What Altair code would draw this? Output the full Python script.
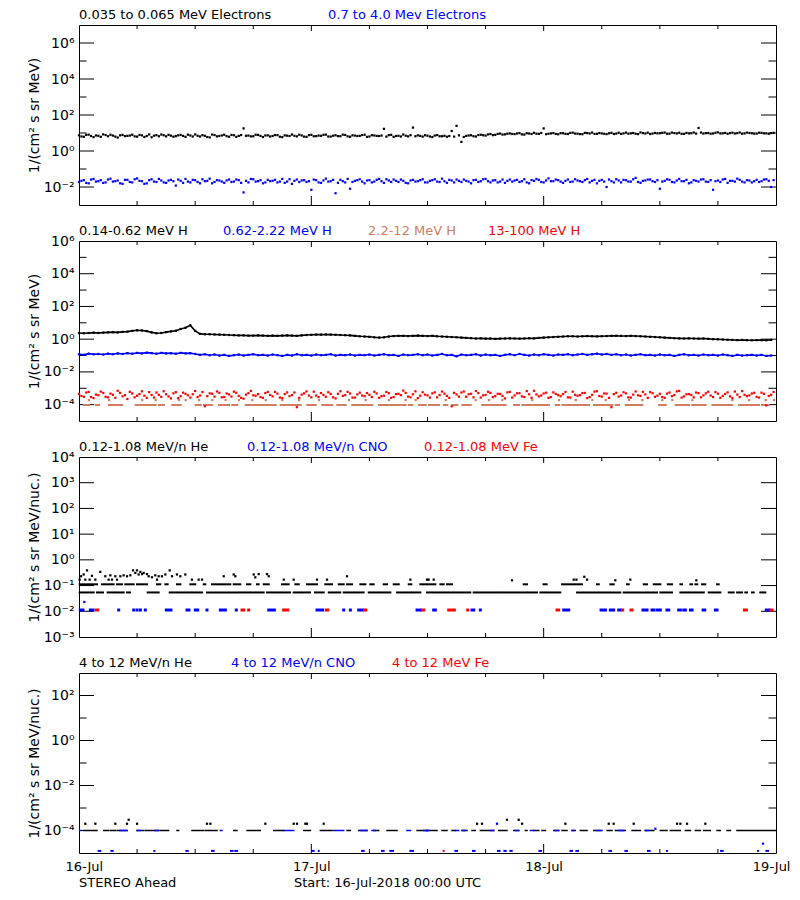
import altair as alt
import pandas as pd

FONT = "DejaVu Sans"
BLACK, BLUE, RED, SIENNA = "#000000", "#0000FF", "#FF0000", "#D08060"
W, H = 697, 180

# ---------------- data (hours since 16-Jul-2018 00:00) ----------------
HOURS_A = [i * 0.5 for i in range(144)]          # samples on the half hour
HOURS_B = [i * 0.5 + 0.25 for i in range(144)]   # samples a quarter past
DAY_TICKS = [0, 24, 48, 72]
DAY_LABELS = ["16-Jul", "17-Jul", "18-Jul", "19-Jul"]

# Panel 1: electrons
E_LO = [7.5, 6.2, 8.1, 5.9, 7.0, 8.4, 6.6, 7.2, 5.6, 7.8,
        6.9, 8.0, 6.3, 7.4, 6.8, 5.8, 7.6, 8.2, 6.5, 7.1,
        6.7, 7.9, 6.1, 7.3, 8.3, 6.4, 7.0, 5.7, 7.7, 6.8,
        8.0, 6.2, 7.5, 6.9, 18.0, 7.2, 6.6, 7.8, 6.0, 7.4,
        6.8, 7.6, 5.9, 7.1, 8.2, 6.5, 7.3, 6.1, 7.9, 6.7,
        7.0, 8.1, 6.3, 7.5, 6.6, 7.8, 6.2, 7.2, 6.9, 8.0,
        6.4, 7.3, 6.8, 17.0, 7.6, 6.1, 7.0, 8.2, 6.5, 20.0,
        7.4, 6.3, 7.1, 6.0, 7.7, 6.6, 6.2, 13.0, 25.0, 3.2,
        6.9, 7.5, 6.4, 8.0, 7.2, 8.8, 7.9, 9.3, 8.4, 9.6,
        8.7, 9.9, 8.2, 9.4, 10.3, 8.9, 18.0, 9.1, 10.0, 8.5,
        9.7, 8.8, 10.4, 9.2, 8.6, 9.9, 10.6, 9.0, 9.5, 8.7,
        10.2, 9.3, 8.9, 10.5, 9.6, 9.1, 10.8, 9.4, 8.8, 10.1,
        9.7, 10.6, 9.2, 9.9, 10.3, 8.9, 9.5, 10.7, 19.0, 9.3,
        10.0, 9.4, 10.9, 9.6, 9.1, 10.4, 9.8, 9.2, 10.5, 9.7,
        9.3, 10.2, 9.6, 9.9]
E_LO_B = [6.4, 7.9, 6.8, 7.3, 6.1, 7.7, 8.0, 6.3, 7.4, 6.7,
          7.2, 6.5, 7.8, 6.0, 8.3, 7.1, 6.6, 7.5, 7.9, 6.2,
          7.4, 6.9, 8.1, 6.4, 7.0, 7.6, 6.0, 8.2, 6.5, 7.3,
          6.7, 7.8, 6.1, 7.7, 7.0, 6.5, 8.0, 6.9, 7.3, 6.4,
          7.7, 6.2, 7.4, 6.8, 7.0, 8.0, 6.3, 7.6, 6.6, 7.2,
          7.9, 6.4, 7.1, 6.7, 8.1, 6.5, 7.4, 6.8, 7.7, 6.1,
          7.5, 6.9, 7.2, 6.3, 7.9, 6.8, 6.4, 7.1, 7.6, 6.6,
          6.9, 7.5, 6.4, 7.2, 6.6, 7.0, 6.8, 6.3, 7.4, 6.0,
          7.3, 6.6, 7.7, 7.5, 8.3, 7.6, 8.9, 8.2, 9.1, 8.8,
          9.4, 8.4, 9.7, 8.8, 9.2, 10.1, 8.6, 9.5, 8.9, 9.8,
          9.0, 10.1, 9.3, 8.7, 10.2, 9.4, 8.9, 10.0, 9.1, 9.6,
          8.8, 10.3, 9.5, 9.2, 10.0, 8.7, 9.9, 10.4, 9.3, 9.6,
          10.2, 9.1, 10.5, 9.4, 9.0, 10.1, 9.7, 9.3, 10.6, 9.8,
          9.2, 10.3, 9.5, 10.1, 9.9, 9.4, 10.7, 9.5, 10.0, 9.3,
          10.4, 9.6, 9.1, 10.2]
E_HI = [0.019, 0.024, 0.016, 0.028, 0.021, 0.017, 0.026, 0.020, 0.023, 0.015,
        0.025, 0.018, 0.030, 0.021, 0.016, 0.027, 0.019, 0.023, 0.017, 0.025,
        0.012, 0.022, 0.028, 0.018, 0.024, 0.016, 0.021, 0.029, 0.019, 0.023,
        0.017, 0.026, 0.020, 0.024, 0.005, 0.018, 0.027, 0.021, 0.016, 0.025,
        0.022, 0.018, 0.028, 0.020, 0.015, 0.026, 0.023, 0.019, 0.007, 0.024,
        0.017, 0.029, 0.021, 0.0045, 0.025, 0.018, 0.008, 0.022, 0.027, 0.016,
        0.024, 0.020, 0.028, 0.017, 0.023, 0.026, 0.019, 0.022, 0.016, 0.025,
        0.021, 0.027, 0.018, 0.024, 0.020, 0.029, 0.017, 0.023, 0.026, 0.019,
        0.022, 0.016, 0.025, 0.021, 0.028, 0.018, 0.024, 0.020, 0.017, 0.026,
        0.023, 0.019, 0.027, 0.016, 0.022, 0.025, 0.018, 0.030, 0.021, 0.024,
        0.017, 0.026, 0.020, 0.023, 0.019, 0.028, 0.022, 0.016, 0.025, 0.010,
        0.021, 0.027, 0.018, 0.024, 0.020, 0.032, 0.017, 0.023, 0.026, 0.019,
        0.008, 0.022, 0.025, 0.018, 0.028, 0.021, 0.016, 0.024, 0.020, 0.027,
        0.019, 0.007, 0.023, 0.026, 0.017, 0.022, 0.029, 0.020, 0.024, 0.018,
        0.025, 0.021, 0.027, 0.010]
E_HI_B = [0.022, 0.017, 0.026, 0.020, 0.024, 0.018, 0.029, 0.021, 0.016, 0.025,
          0.019, 0.027, 0.022, 0.015, 0.024, 0.020, 0.028, 0.018, 0.023, 0.021,
          0.026, 0.017, 0.020, 0.025, 0.019, 0.027, 0.022, 0.016, 0.024, 0.020,
          0.023, 0.019, 0.026, 0.017, 0.022, 0.028, 0.020, 0.024, 0.018, 0.021,
          0.025, 0.020, 0.017, 0.027, 0.022, 0.019, 0.024, 0.021, 0.026, 0.018,
          0.023, 0.020, 0.025, 0.017, 0.021, 0.028, 0.019, 0.024, 0.020, 0.023,
          0.018, 0.025, 0.021, 0.027, 0.019, 0.022, 0.026, 0.017, 0.023, 0.020,
          0.024, 0.018, 0.022, 0.027, 0.019, 0.021, 0.025, 0.018, 0.022, 0.026,
          0.020, 0.024, 0.019, 0.027, 0.021, 0.023, 0.018, 0.026, 0.022, 0.020,
          0.025, 0.021, 0.018, 0.024, 0.028, 0.019, 0.023, 0.021, 0.026, 0.020,
          0.022, 0.019, 0.027, 0.021, 0.024, 0.018, 0.025, 0.022, 0.020, 0.026,
          0.018, 0.023, 0.025, 0.020, 0.027, 0.019, 0.022, 0.026, 0.021, 0.024,
          0.020, 0.027, 0.019, 0.023, 0.021, 0.025, 0.018, 0.022, 0.026, 0.020,
          0.024, 0.021, 0.019, 0.028, 0.022, 0.020, 0.025, 0.018, 0.023, 0.021,
          0.019, 0.026, 0.022, 0.024]

# Panel 2: protons
H_LO = [2.4, 2.3, 2.4, 2.5, 2.4, 2.5, 2.6, 2.7, 2.6, 2.8,
        2.9, 3.2, 3.5, 3.4, 3.1, 2.6, 2.3, 2.4, 2.7, 3.0,
        3.3, 4.2, 5.0, 7.0, 3.2, 2.1, 2.0, 2.0, 1.95, 1.9,
        1.85, 1.8, 1.75, 1.7, 1.7, 1.65, 1.65, 1.7, 1.65, 1.6,
        1.65, 1.6, 1.65, 1.7, 1.65, 1.6, 1.7, 1.8, 1.85, 1.9,
        1.9, 1.95, 1.9, 1.85, 1.8, 1.75, 1.7, 1.6, 1.5, 1.45,
        1.4, 1.3, 1.25, 1.3, 1.45, 1.55, 1.6, 1.6, 1.55, 1.6,
        1.65, 1.6, 1.55, 1.6, 1.5, 1.45, 1.4, 1.35, 1.3, 1.25,
        1.2, 1.15, 1.1, 1.12, 1.08, 1.1, 1.05, 1.08, 1.1, 1.12,
        1.1, 1.08, 1.1, 1.15, 1.12, 1.2, 1.25, 1.3, 1.35, 1.4,
        1.45, 1.5, 1.5, 1.45, 1.5, 1.55, 1.5, 1.48, 1.52, 1.55,
        1.6, 1.62, 1.58, 1.55, 1.6, 1.55, 1.5, 1.45, 1.4, 1.35,
        1.3, 1.25, 1.2, 1.15, 1.12, 1.1, 1.12, 1.1, 1.08, 1.1,
        1.05, 1.0, 0.98, 0.95, 0.92, 0.9, 0.88, 0.9, 0.87, 0.86,
        0.88, 0.87, 0.86, 0.9]
H_MID = [0.12, 0.11, 0.13, 0.12, 0.125, 0.115, 0.13, 0.12, 0.135, 0.125,
         0.14, 0.13, 0.145, 0.135, 0.15, 0.14, 0.13, 0.145, 0.135, 0.14,
         0.13, 0.145, 0.135, 0.14, 0.125, 0.11, 0.12, 0.105, 0.115, 0.1,
         0.11, 0.095, 0.105, 0.115, 0.1, 0.11, 0.12, 0.105, 0.11, 0.1,
         0.115, 0.105, 0.095, 0.11, 0.1, 0.12, 0.105, 0.11, 0.1, 0.115,
         0.105, 0.11, 0.12, 0.1, 0.11, 0.105, 0.115, 0.1, 0.11, 0.105,
         0.115, 0.1, 0.11, 0.12, 0.105, 0.11, 0.095, 0.115, 0.105, 0.11,
         0.12, 0.105, 0.115, 0.1, 0.11, 0.125, 0.105, 0.11, 0.09, 0.115,
         0.105, 0.11, 0.12, 0.1, 0.115, 0.105, 0.11, 0.095, 0.11, 0.12,
         0.105, 0.125, 0.11, 0.1, 0.115, 0.105, 0.12, 0.11, 0.1, 0.115,
         0.11, 0.12, 0.105, 0.115, 0.125, 0.11, 0.12, 0.13, 0.115, 0.125,
         0.11, 0.12, 0.105, 0.115, 0.1, 0.11, 0.12, 0.105, 0.11, 0.1,
         0.115, 0.105, 0.11, 0.095, 0.11, 0.12, 0.105, 0.11, 0.1, 0.115,
         0.105, 0.11, 0.1, 0.115, 0.105, 0.095, 0.11, 0.1, 0.105, 0.11,
         0.1, 0.11, 0.095, 0.1]
H_HI = [4.5e-4, 3.0e-4, 6.0e-4, 2.5e-4, 3.8e-4, 5.2e-4, 2.8e-4, 4.0e-4, 7.0e-4, 3.2e-4,
        2.2e-4, 4.8e-4, 3.5e-4, 6.5e-4, 2.6e-4, 3.9e-4, 5.5e-4, 3.0e-4, 4.3e-4, 2.4e-4,
        5.8e-4, 3.3e-4, 4.6e-4, 2.7e-4, 6.8e-4, 3.6e-4, 0.8e-4, 4.9e-4, 3.1e-4, 5.3e-4,
        2.9e-4, 4.2e-4, 6.2e-4, 3.4e-4, 2.3e-4, 5.0e-4, 3.7e-4, 4.4e-4, 2.6e-4, 6.0e-4,
        3.2e-4, 4.7e-4, 2.5e-4, 5.6e-4, 3.9e-4, 0.7e-4, 4.1e-4, 6.4e-4, 2.8e-4, 3.6e-4,
        5.1e-4, 3.0e-4, 4.5e-4, 2.4e-4, 6.6e-4, 3.8e-4, 4.8e-4, 2.7e-4, 5.4e-4, 3.3e-4,
        4.0e-4, 6.1e-4, 2.6e-4, 3.5e-4, 5.0e-4, 2.9e-4, 4.6e-4, 7.2e-4, 3.1e-4, 4.3e-4,
        2.5e-4, 5.7e-4, 3.7e-4, 4.9e-4, 2.8e-4, 6.3e-4, 3.4e-4, 0.8e-4, 4.2e-4, 5.5e-4,
        3.0e-4, 4.6e-4, 6.8e-4, 2.7e-4, 3.9e-4, 5.2e-4, 3.3e-4, 4.5e-4, 2.4e-4, 6.0e-4,
        3.6e-4, 5.0e-4, 2.9e-4, 4.3e-4, 7.0e-4, 3.2e-4, 4.8e-4, 2.6e-4, 5.6e-4, 3.8e-4,
        4.4e-4, 2.8e-4, 6.2e-4, 3.5e-4, 5.1e-4, 2.5e-4, 4.0e-4, 6.6e-4, 3.1e-4, 4.7e-4,
        0.7e-4, 5.3e-4, 3.6e-4, 4.9e-4, 2.7e-4, 6.4e-4, 3.4e-4, 4.2e-4, 5.8e-4, 3.0e-4,
        4.6e-4, 2.6e-4, 5.5e-4, 3.9e-4, 6.9e-4, 3.2e-4, 4.4e-4, 2.8e-4, 5.0e-4, 3.7e-4,
        6.1e-4, 2.9e-4, 4.7e-4, 3.4e-4, 5.6e-4, 2.5e-4, 4.1e-4, 6.7e-4, 3.3e-4, 4.8e-4,
        3.0e-4, 5.4e-4, 0.9e-4, 4.0e-4]
H_HI_B = [3.4e-4, 5.5e-4, 2.9e-4, 4.1e-4, 6.3e-4, 3.0e-4, 4.7e-4, 2.6e-4, 5.2e-4, 3.8e-4,
          6.1e-4, 2.8e-4, 4.4e-4, 3.5e-4, 5.8e-4, 2.7e-4, 4.0e-4, 6.6e-4, 3.2e-4, 4.9e-4,
          2.5e-4, 5.4e-4, 3.7e-4, 4.3e-4, 2.9e-4, 5.9e-4, 3.3e-4, 4.6e-4, 6.4e-4, 2.8e-4,
          4.8e-4, 3.1e-4, 5.3e-4, 2.6e-4, 4.1e-4, 6.9e-4, 3.5e-4, 2.9e-4, 5.1e-4, 3.9e-4,
          6.0e-4, 2.7e-4, 4.4e-4, 3.3e-4, 5.5e-4, 2.6e-4, 4.9e-4, 3.6e-4, 6.2e-4, 2.9e-4,
          3.9e-4, 5.7e-4, 2.8e-4, 4.6e-4, 3.4e-4, 6.0e-4, 2.7e-4, 4.2e-4, 3.6e-4, 5.1e-4,
          2.9e-4, 4.8e-4, 3.3e-4, 5.9e-4, 2.6e-4, 4.4e-4, 3.8e-4, 5.2e-4, 2.8e-4, 6.5e-4,
          3.5e-4, 4.1e-4, 2.7e-4, 5.6e-4, 3.9e-4, 4.7e-4, 2.6e-4, 5.3e-4, 3.1e-4, 6.3e-4,
          4.3e-4, 2.8e-4, 5.1e-4, 3.7e-4, 6.1e-4, 2.9e-4, 4.6e-4, 3.4e-4, 5.6e-4, 2.7e-4,
          4.9e-4, 3.2e-4, 6.7e-4, 2.6e-4, 4.2e-4, 3.6e-4, 5.4e-4, 2.9e-4, 4.5e-4, 3.3e-4,
          5.9e-4, 2.7e-4, 4.0e-4, 3.8e-4, 5.2e-4, 2.9e-4, 6.2e-4, 3.4e-4, 4.8e-4, 2.6e-4,
          4.4e-4, 3.1e-4, 5.7e-4, 2.8e-4, 4.1e-4, 3.7e-4, 6.0e-4, 2.6e-4, 5.0e-4, 3.5e-4,
          2.9e-4, 4.7e-4, 3.3e-4, 6.4e-4, 2.7e-4, 4.3e-4, 3.9e-4, 5.5e-4, 2.8e-4, 4.9e-4,
          3.6e-4, 5.8e-4, 2.6e-4, 4.5e-4, 3.2e-4, 6.3e-4, 2.9e-4, 4.0e-4, 3.7e-4, 5.3e-4,
          2.7e-4, 4.6e-4, 3.4e-4, 5.9e-4]
H_SIENNA_LEVEL = 9.5e-5
H_SIENNA_RUNS = [(0.52, 1.03), (1.72, 2.07), (3.1, 4.47), (5.86, 7.92), (8.26, 8.78),
                 (9.64, 10.5), (12.05, 12.57), (12.91, 13.77), (14.46, 15.5), (15.84, 16.35),
                 (17.22, 20.32), (20.84, 22.9), (23.58, 24.45), (25.13, 26.17), (26.68, 27.55),
                 (28.23, 30.3), (30.99, 33.06), (33.06, 33.75), (34.09, 34.43), (35.12, 35.82),
                 (36.16, 37.19), (37.71, 38.05), (38.56, 39.08), (39.6, 40.46), (41.66, 44.08),
                 (44.94, 45.45), (45.8, 47.52), (47.7, 48.55), (49.25, 49.59), (49.93, 52.69),
                 (53.2, 55.1), (55.44, 55.79), (56.48, 58.19), (59.92, 60.61), (61.64, 63.02),
                 (63.36, 64.74), (65.43, 67.49), (68.18, 70.25), (70.59, 71.28)]
H_SIENNA_UP_LEVEL = 1.9e-4
H_SIENNA_UP_HOURS = [1.03, 3.1, 6.54, 7.92, 10.33, 11.02, 12.4, 13.77, 15.15, 16.53, 17.9,
                     19.29, 21.0, 22.73, 24.79, 27.89, 29.62, 32.02, 33.75, 34.78, 37.88,
                     40.98, 42.36, 43.73, 46.83, 49.59, 51.31, 53.03, 54.41, 56.82, 58.19,
                     60.26, 61.29, 63.36, 67.49, 69.21, 70.94, 71.8]

# Panel 3: 0.12-1.08 MeV/n ions
HE_LOW_LEVEL = 0.054
HE_LOW_RUNS = [(0.07, 1.52), (1.86, 2.48), (2.96, 4.62), (4.96, 5.27), (7.10, 8.23),
               (9.37, 11.5), (11.67, 12.71), (13.22, 16.32), (16.5, 19.08), (19.42, 21.8),
               (22.18, 23.86), (24.38, 25.28), (25.8, 26.99), (27.35, 29.41), (29.93, 32.16),
               (32.85, 34.23), (34.4, 35.26), (35.95, 38.53), (38.71, 40.42), (40.77, 43.18),
               (43.36, 46.28), (46.46, 47.31), (47.66, 49.72), (51.45, 55.92), (56.27, 59.71),
               (60.05, 61.26), (62.12, 64.54), (65.05, 66.25), (67.12, 67.63), (67.98, 68.5),
               (68.83, 69.01), (69.52, 69.7), (70.38, 70.9)]
HE_MID_LEVEL = 0.112
HE_MID_RUNS = [(0.07, 1.86), (2.38, 3.58), (3.93, 4.44), (4.78, 5.65), (5.99, 7.02),
               (8.06, 8.4), (8.92, 9.16), (10.12, 10.47), (11.5, 12.01), (12.88, 13.05),
               (13.74, 15.63), (15.98, 16.66), (17.36, 17.7), (18.39, 18.56), (19.08, 19.6),
               (20.97, 21.66), (22.35, 22.7), (23.55, 24.59), (25.44, 26.14), (26.83, 27.35),
               (27.69, 28.2), (29.06, 29.58), (30.09, 30.44), (31.48, 31.82), (32.51, 33.03),
               (34.06, 34.33), (35.26, 35.95), (36.13, 36.81), (37.33, 37.67), (38.02, 38.53),
               (45.94, 46.28), (47.98, 48.31), (49.9, 51.96), (53.51, 53.69), (54.89, 55.24),
               (56.61, 56.79), (58.34, 58.68), (59.37, 60.05), (60.82, 61.26), (62.12, 62.29),
               (63.15, 63.33), (63.67, 63.87), (64.36, 64.7), (65.91, 66.08)]
HE_SCATTER = [(0.07, 0.17), (0.21, 0.23), (0.48, 0.27), (0.65, 0.17), (0.83, 0.39),
              (1.1, 0.17), (1.34, 0.24), (1.69, 0.17), (2.2, 0.34), (2.72, 0.23),
              (3.06, 0.17), (3.24, 0.25), (3.41, 0.17), (3.75, 0.23), (3.93, 0.17),
              (4.27, 0.23), (4.61, 0.25), (4.96, 0.23), (5.3, 0.25), (5.58, 0.39),
              (5.82, 0.31), (5.99, 0.39), (6.16, 0.27), (6.34, 0.34), (6.51, 0.28),
              (6.68, 0.31), (7.02, 0.28), (7.2, 0.23), (7.54, 0.21), (7.88, 0.25),
              (8.06, 0.17), (8.23, 0.23), (8.57, 0.23), (8.92, 0.27), (9.37, 0.39),
              (9.61, 0.23), (10.12, 0.27), (10.47, 0.23), (10.98, 0.27), (11.67, 0.17),
              (12.36, 0.17), (12.71, 0.17), (14.95, 0.23), (15.98, 0.27), (16.15, 0.23),
              (18.05, 0.27), (18.21, 0.21), (18.56, 0.28), (19.42, 0.28), (19.6, 0.23),
              (21.15, 0.17), (22.18, 0.17), (24.59, 0.17), (25.62, 0.17), (27.69, 0.23),
              (34.23, 0.17), (35.95, 0.17), (36.12, 0.17), (36.64, 0.17), (44.73, 0.16),
              (51.1, 0.17), (51.38, 0.17), (52.2, 0.22), (52.48, 0.17), (55.4, 0.16),
              (56.95, 0.17), (63.77, 0.16)]
CNO_LOW_LEVEL = 0.0112
CNO_LOW_RUNS = [(0.14, 0.41), (1.17, 1.45), (4.1, 4.1), (5.65, 5.65), (6.0, 6.0), (6.34, 6.34),
                (6.85, 6.85), (9.02, 9.5), (11.16, 11.36), (12.02, 12.26), (13.22, 13.22),
                (14.6, 15.12), (16.25, 16.25), (19.6, 20.18), (24.59, 25.17), (27.34, 27.34),
                (28.03, 28.03), (28.89, 29.24), (34.92, 35.26), (36.64, 36.81), (40.6, 40.77),
                (41.46, 41.46), (50.07, 50.59), (53.93, 54.38), (54.89, 55.23), (55.75, 55.92),
                (58.26, 58.68), (59.19, 59.37), (59.71, 60.05), (60.74, 60.92), (61.95, 62.12),
                (62.47, 62.64), (63.16, 63.33), (64.47, 64.64), (65.74, 65.91), (71.0, 71.25)]
CNO_LOW_EXTRA = [(0.55, 0.023)]
FE_LOW_RUNS = [(1.79, 1.93), (16.84, 17.01), (17.53, 17.53), (21.14, 21.56), (25.55, 25.69),
               (29.48, 29.62), (35.47, 35.61), (38.19, 38.36), (38.64, 38.77), (40.15, 40.15),
               (49.38, 49.55), (56.16, 56.16), (57.02, 57.13), (68.74, 68.94), (71.42, 71.59)]

# Panel 4: 4-12 MeV/n ions
HI_LEVEL = 1.0e-4
HE4_RUNS = [(0.48, 1.86), (2.55, 3.06), (3.24, 3.75), (3.93, 4.96), (6.0, 6.68), (6.85, 8.23),
            (8.4, 9.26), (10.12, 10.3), (11.67, 12.88), (13.05, 14.26), (15.98, 16.32),
            (17.36, 18.73), (20.11, 21.14), (23.21, 23.9), (24.93, 26.14), (27.69, 28.03),
            (28.89, 29.75), (30.44, 30.96), (31.82, 32.85), (34.92, 35.95), (35.95, 36.98),
            (37.5, 38.02), (38.53, 38.88), (39.57, 40.08), (40.6, 40.94), (41.46, 42.84),
            (43.36, 44.21), (44.9, 45.42), (46.11, 46.28), (46.97, 47.49), (47.83, 48.18),
            (49.04, 49.55), (49.9, 50.41), (50.93, 51.27), (51.79, 52.48), (53.17, 53.86),
            (54.55, 55.06), (55.41, 56.44), (57.13, 57.99), (58.5, 59.37), (60.05, 60.74),
            (61.09, 62.12), (62.64, 63.16), (63.67, 64.19), (64.53, 65.22), (65.91, 66.25),
            (66.94, 67.29), (67.97, 71.94)]
CNO4_RUNS = [(0.07, 0.21), (4.27, 4.96), (6.0, 6.34), (7.88, 8.23), (14.6, 14.77),
             (21.14, 22.18), (26.31, 27.34), (29.06, 29.75), (30.27, 30.61), (33.88, 34.23),
             (35.61, 35.95), (35.95, 36.12), (38.88, 39.22), (39.57, 39.91), (42.49, 42.84),
             (45.08, 45.42), (46.63, 46.97), (49.21, 49.55), (50.93, 51.1), (53.51, 54.03),
             (55.75, 56.27), (58.5, 58.85)]
HE4_SCATTER = [(0.65, 2e-4), (1.69, 2e-4), (3.75, 2e-4), (4.96, 2e-4), (5.13, 3e-4),
               (6.0, 2e-4), (13.22, 2e-4), (13.57, 2e-4), (19.25, 2e-4), (22.18, 2e-4),
               (22.52, 2e-4), (23.38, 2e-4), (23.55, 2e-4), (25.28, 2e-4), (41.12, 2e-4),
               (41.63, 2e-4), (44.21, 3e-4), (45.42, 3e-4), (45.77, 2e-4), (50.24, 2e-4),
               (54.72, 2e-4), (55.23, 2e-4), (57.3, 2e-4), (61.78, 2e-4), (62.12, 2e-4),
               (62.81, 2e-4), (64.7, 2e-4)]
CNO4_SCATTER = [(43.18, 2e-4), (59.54, 1.2e-4), (70.66, 2.6e-5)]
BASE_LEVEL = 1.24e-5
CNO4_BASE_RUNS = [(2.03, 2.2), (3.34, 3.48), (7.78, 7.78), (11.09, 11.23), (13.74, 13.91),
                  (15.7, 15.87), (16.15, 16.32), (24.07, 24.24), (24.76, 24.76), (29.24, 29.41),
                  (31.3, 31.47), (32.16, 32.44), (34.23, 34.51), (38.88, 39.05), (40.7, 40.87),
                  (43.28, 43.45), (43.94, 44.08), (44.56, 44.7), (47.56, 47.73), (50.76, 50.93),
                  (51.38, 51.55), (54.79, 54.96), (56.44, 56.61), (58.78, 58.95), (60.74, 60.74),
                  (66.32, 66.49), (70.15, 70.15), (71.01, 71.18)]
FE4_BASE_RUNS = [(37.67, 37.67)]

# ---------------- helpers ----------------
SUP = str.maketrans("-0123456789", "⁻⁰¹²³⁴⁵⁶⁷⁸⁹")


def ylabel_expr(exps):
    parts = [f"round(log(datum.value)/LN10) == {e} ? '10{str(e).translate(SUP)}'" for e in exps]
    return " : ".join(parts) + " : ''"


XLABEL_EXPR = " : ".join(
    f"datum.value == {t} ? '{l}'" for t, l in zip(DAY_TICKS, DAY_LABELS)) + " : ''"

XSC = alt.Scale(domain=[0, 72], nice=False, zero=False)


def panel(exp_lo, exp_hi, major, minor, label_exps, ytitle, data_specs, titles, bottom=False):
    ysc = alt.Scale(type="log", domain=[10.0 ** exp_lo, 10.0 ** exp_hi], nice=False)
    yaxis = alt.Axis(
        values=[10.0 ** e for e in label_exps], labelExpr=ylabel_expr(label_exps),
        ticks=False, domain=False, grid=False, labelOverlap=False, labelFlush=False,
        labelFontSize=14, labelPadding=5, title=ytitle, titleFontSize=14,
        titleX=-45, titleY=H / 2, titleBaseline="middle", titleAngle=-90,
        titleFontWeight="normal")
    if bottom:
        xaxis = alt.Axis(values=DAY_TICKS, labelExpr=XLABEL_EXPR, ticks=False, domain=False,
                         grid=False, labelFontSize=13, labelPadding=7, labelFlush=True,
                         labelFlushOffset=14, labelOverlap=False, title=None)
    else:
        xaxis = None

    def Y(field):
        return alt.Y(field, scale=ysc, axis=yaxis)

    def X(field):
        return alt.X(field, scale=XSC, axis=xaxis)

    layers = []
    # y ticks (inside, both sides)
    maj_df = pd.DataFrame({"v": [10.0 ** e for e in major]})
    layers.append(alt.Chart(maj_df).mark_rule(color="black", strokeWidth=1).encode(
        x=alt.value(0), x2=alt.value(15), y=Y("v:Q")))
    layers.append(alt.Chart(maj_df).mark_rule(color="black", strokeWidth=1).encode(
        x=alt.value(W - 15), x2=alt.value(W), y=Y("v:Q")))
    if minor:
        min_df = pd.DataFrame({"v": [10.0 ** e for e in minor]})
        layers.append(alt.Chart(min_df).mark_rule(color="black", strokeWidth=1).encode(
            x=alt.value(0), x2=alt.value(7.5), y=Y("v:Q")))
        layers.append(alt.Chart(min_df).mark_rule(color="black", strokeWidth=1).encode(
            x=alt.value(W - 7.5), x2=alt.value(W), y=Y("v:Q")))
    # x ticks (inside, top and bottom)
    xmin = pd.DataFrame({"h": [6, 12, 18, 30, 36, 42, 54, 60, 66]})
    xmaj = pd.DataFrame({"h": [24, 48]})
    layers.append(alt.Chart(xmaj).mark_rule(color="black").encode(
        x=X("h:Q"), y=alt.value(H - 9), y2=alt.value(H)))
    layers.append(alt.Chart(xmaj).mark_rule(color="black").encode(
        x=X("h:Q"), y=alt.value(0), y2=alt.value(6)))
    layers.append(alt.Chart(xmin).mark_rule(color="black").encode(
        x=X("h:Q"), y=alt.value(H - 4), y2=alt.value(H)))
    layers.append(alt.Chart(xmin).mark_rule(color="black").encode(
        x=X("h:Q"), y=alt.value(0), y2=alt.value(4)))
    # data
    for spec in data_specs:
        kind = spec[0]
        if kind in ("pts", "line"):
            _, hours, values, color = spec
            df = pd.DataFrame({"h": hours, "v": values})
            if kind == "line":
                layers.append(alt.Chart(df).mark_line(color=color, strokeWidth=1.6).encode(
                    x=X("h:Q"), y=Y("v:Q")))
            layers.append(alt.Chart(df).mark_square(size=5, color=color, opacity=1).encode(
                x=X("h:Q"), y=Y("v:Q")))
        else:
            _, runs, level, color, width = spec
            df = pd.DataFrame({"h0": [r[0] for r in runs], "h1": [r[1] for r in runs],
                               "v": [level] * len(runs)})
            layers.append(alt.Chart(df).mark_rule(
                color=color, strokeWidth=width, strokeCap="square").encode(
                x=X("h0:Q"), x2="h1:Q", y=Y("v:Q")))
    # titles
    texts = [(t, c, xo, -10) for t, c, xo in titles]
    if bottom:
        texts += [("STEREO Ahead", BLACK, 0, H + 30),
                  ("Start: 16-Jul-2018 00:00 UTC", BLACK, 215, H + 30)]
    for txt, color, xoff, yoff in texts:
        layers.append(alt.Chart(pd.DataFrame({"t": [txt]})).mark_text(
            align="left", baseline="middle", font=FONT, fontSize=13, color=color).encode(
            x=alt.value(xoff), y=alt.value(yoff), text="t:N"))
    return alt.layer(*layers).properties(width=W, height=H)


def pts(h, v, c):
    return ("pts", h, v, c)


def line(h, v, c):
    return ("line", h, v, c)


def runs(r, lvl, c, width=2):
    return ("runs", r, lvl, c, width)


p1 = panel(-3, 7, [-2, 0, 2, 4, 6], [-1, 1, 3, 5], [-2, 0, 2, 4, 6], "1/(cm² s sr MeV)",
           [pts(HOURS_A, E_LO, BLACK), pts(HOURS_B, E_LO_B, BLACK),
            pts(HOURS_A, E_HI, BLUE), pts(HOURS_B, E_HI_B, BLUE)],
           [("0.035 to 0.065 MeV Electrons", BLACK, 0), ("0.7 to 4.0 Mev Electrons", BLUE, 249)])

p2 = panel(-5, 6, [-4, -2, 0, 2, 4], [-3, -1, 1, 3, 5], [-4, -2, 0, 2, 4, 6], "1/(cm² s sr MeV)",
           [runs(H_SIENNA_RUNS, H_SIENNA_LEVEL, SIENNA),
            pts(H_SIENNA_UP_HOURS, [H_SIENNA_UP_LEVEL] * len(H_SIENNA_UP_HOURS), SIENNA),
            pts(HOURS_A, H_HI, RED), pts(HOURS_B, H_HI_B, RED),
            line(HOURS_A, H_LO, BLACK), line(HOURS_A, H_MID, BLUE)],
           [("0.14-0.62 MeV H", BLACK, 0), ("0.62-2.22 MeV H", BLUE, 144),
            ("2.2-12 MeV H", SIENNA, 289), ("13-100 MeV H", RED, 409)])

p3 = panel(-3, 4, [-2, -1, 0, 1, 2, 3], [], [-3, -2, -1, 0, 1, 2, 3, 4],
           "1/(cm² s sr MeV/nuc.)",
           [runs(HE_LOW_RUNS, HE_LOW_LEVEL, BLACK), runs(HE_MID_RUNS, HE_MID_LEVEL, BLACK),
            pts([p[0] for p in HE_SCATTER], [p[1] for p in HE_SCATTER], BLACK),
            runs(CNO_LOW_RUNS, CNO_LOW_LEVEL, BLUE, 3),
            pts([p[0] for p in CNO_LOW_EXTRA], [p[1] for p in CNO_LOW_EXTRA], BLUE),
            runs(FE_LOW_RUNS, CNO_LOW_LEVEL, RED, 3)],
           [("0.12-1.08 MeV/n He", BLACK, 0), ("0.12-1.08 MeV/n CNO", BLUE, 168),
            ("0.12-1.08 MeV Fe", RED, 345)])

p4 = panel(-5, 3, [-4, -2, 0, 2], [-3, -1, 1], [-4, -2, 0, 2], "1/(cm² s sr MeV/nuc.)",
           [runs(HE4_RUNS, HI_LEVEL, BLACK, 1.5), runs(CNO4_RUNS, HI_LEVEL, BLUE, 1.5),
            pts([p[0] for p in HE4_SCATTER], [p[1] for p in HE4_SCATTER], BLACK),
            pts([p[0] for p in CNO4_SCATTER], [p[1] for p in CNO4_SCATTER], BLUE),
            runs(CNO4_BASE_RUNS, BASE_LEVEL, BLUE, 2), runs(FE4_BASE_RUNS, BASE_LEVEL, RED, 2)],
           [("4 to 12 MeV/n He", BLACK, 0), ("4 to 12 MeV/n CNO", BLUE, 152),
            ("4 to 12 MeV Fe", RED, 313)], bottom=True)

chart = alt.vconcat(p1, p2, p3, p4, spacing=36, bounds="flush").properties(
    padding={"left": 18, "top": 0, "right": 0, "bottom": 2},
    background="white",
).configure_view(stroke="black", strokeWidth=1).configure_axis(
    labelFont=FONT, titleFont=FONT, labelColor="black", titleColor="black")

chart.save("out.html", embed_options={"renderer": "svg", "actions": False})
